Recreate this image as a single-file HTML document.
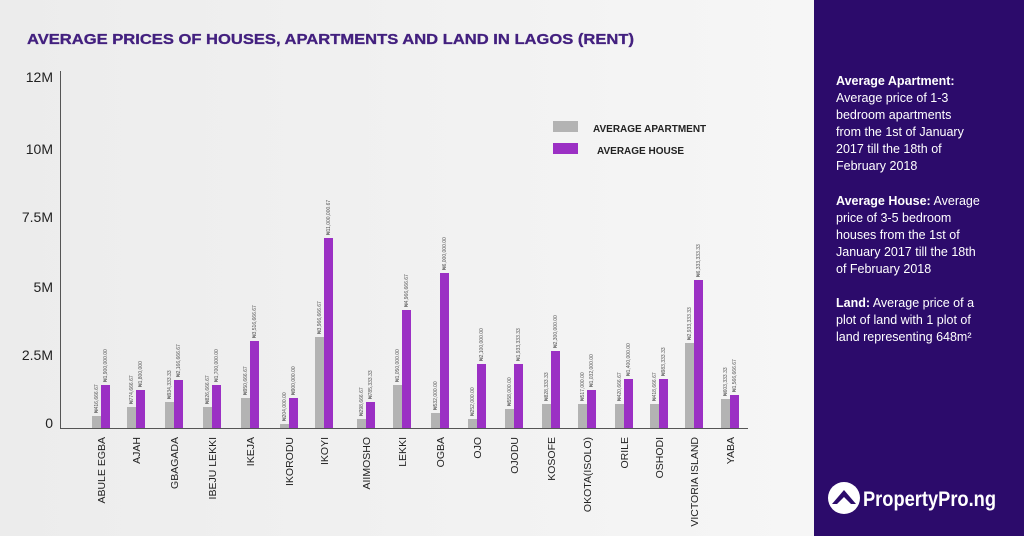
<!DOCTYPE html>
<html><head><meta charset="utf-8"><style>
body{margin:0;width:1024px;height:536px;overflow:hidden;font-family:"Liberation Sans",sans-serif}
</style></head><body>
<svg width="1024" height="536" xmlns="http://www.w3.org/2000/svg" font-family="Liberation Sans, sans-serif">
<defs><linearGradient id="bg" x1="0" y1="0" x2="1" y2="0"><stop offset="0" stop-color="#ececec"/><stop offset="1" stop-color="#f6f6f6"/></linearGradient></defs>
<rect width="814" height="536" fill="url(#bg)"/>
<rect x="814" width="210" height="536" fill="#2c0b6b"/>
<text x="27" y="44" font-size="15" font-weight="bold" fill="#43207f" stroke="#43207f" stroke-width="0.3" textLength="607" lengthAdjust="spacingAndGlyphs">AVERAGE PRICES OF HOUSES, APARTMENTS AND LAND IN LAGOS (RENT)</text>
<g font-size="14" fill="#222" text-anchor="end">
<text x="53" y="82">12M</text><text x="53" y="154">10M</text><text x="53" y="222">7.5M</text><text x="53" y="292">5M</text><text x="53" y="360">2.5M</text><text x="53" y="428">0</text>
</g>
<line x1="60.5" y1="71" x2="60.5" y2="428" stroke="#555" stroke-width="1"/>
<line x1="60" y1="428.5" x2="748" y2="428.5" stroke="#555" stroke-width="1"/>
<rect x="553" y="121" width="25" height="11" fill="#b3b3b3"/>
<rect x="553" y="143" width="25" height="11" fill="#9b30c4"/>
<text x="593" y="132" font-size="10" font-weight="bold" fill="#222">AVERAGE APARTMENT</text>
<text x="597" y="154" font-size="10" font-weight="bold" fill="#222">AVERAGE HOUSE</text>
<g id="bars"></g>
<g id="xl" font-size="10.5" fill="#222"></g>
<g id="vl" font-size="5" fill="#555"></g>
<g fill="#fff" font-size="12.5">
<text x="836" y="85"><tspan font-weight="bold">Average Apartment:</tspan></text>
<text x="836" y="102">Average price of 1-3</text>
<text x="836" y="119">bedroom apartments</text>
<text x="836" y="136">from the 1st of January</text>
<text x="836" y="153">2017 till the 18th of</text>
<text x="836" y="170">February 2018</text>
<text x="836" y="205"><tspan font-weight="bold">Average House:</tspan> Average</text>
<text x="836" y="222">price of  3-5 bedroom</text>
<text x="836" y="239">houses from the 1st of</text>
<text x="836" y="256">January 2017 till the 18th</text>
<text x="836" y="273">of February 2018</text>
<text x="836" y="307"><tspan font-weight="bold">Land:</tspan> Average price of a</text>
<text x="836" y="324">plot of land with 1 plot of</text>
<text x="836" y="341">land representing 648m²</text>
</g>
<circle cx="844" cy="498" r="16" fill="#fff"/>
<path d="M832 504 L844 490 L856 504 L851 504 L844 497 L837 504Z" fill="#2c0b6b"/>
<text x="863" y="506" font-size="21" font-weight="bold" fill="#fff" textLength="133" lengthAdjust="spacingAndGlyphs">PropertyPro.ng</text>
</svg>
<script>
const d=[["ABULE EGBA",92,416,385,"₦416,666.67","₦1,900,000.00"],["AJAH",127,407,390,"₦774,666.67","₦1,800,000"],["GBAGADA",165,402,380,"₦934,333.33","₦2,166,666.67"],["IBEJU LEKKI",203,407,385,"₦826,666.67","₦1,700,000.00"],["IKEJA",241,398,341,"₦950,666.67","₦3,516,666.67"],["IKORODU",280,424,398,"₦204,000.00","₦900,000.00"],["IKOYI",315,337,238,"₦3,966,666.67","₦11,000,000.67"],["AIIMOSHO",357,419,402,"₦298,666.67","₦785,333.33"],["LEKKI",393,385,310,"₦1,050,000.00","₦4,966,666.67"],["OGBA",431,413,273,"₦532,000.00","₦6,000,000.00"],["OJO",468,419,364,"₦252,000.00","₦2,100,000.00"],["OJODU",505,409,364,"₦558,000.00","₦1,933,333.33"],["KOSOFE",542,404,351,"₦828,333.33","₦2,300,000.00"],["OKOTA(ISOLO)",578,404,390,"₦517,000.00","₦1,032,000.00"],["ORILE",615,404,379,"₦420,666.67","₦1,400,000.00"],["OSHODI",650,404,379,"₦418,666.67","₦983,333.33"],["VICTORIA ISLAND",685,343,280,"₦2,933,333.33","₦6,333,333.33"],["YABA",721,399,395,"₦603,333.33","₦1,566,666.67"]];
const NS="http://www.w3.org/2000/svg";
function el(p,t,a,txt){const e=document.createElementNS(NS,t);for(const k in a)e.setAttribute(k,a[k]);if(txt)e.textContent=txt;document.getElementById(p).appendChild(e);}
d.forEach(r=>{const x=r[1];
el("bars","rect",{x:x,y:r[2],width:9,height:428-r[2],fill:"#b3b3b3"});
el("bars","rect",{x:x+9,y:r[3],width:9,height:428-r[3],fill:"#9b30c4"});
const cx=x+9+4;
el("xl","text",{transform:`translate(${cx},437) rotate(-90)`,"text-anchor":"end"},r[0]);
el("vl","text",{transform:`translate(${x+6},${r[2]-3}) rotate(-90)`},r[4]);
el("vl","text",{transform:`translate(${x+15},${r[3]-3}) rotate(-90)`},r[5]);
});
</script>
</body></html>
